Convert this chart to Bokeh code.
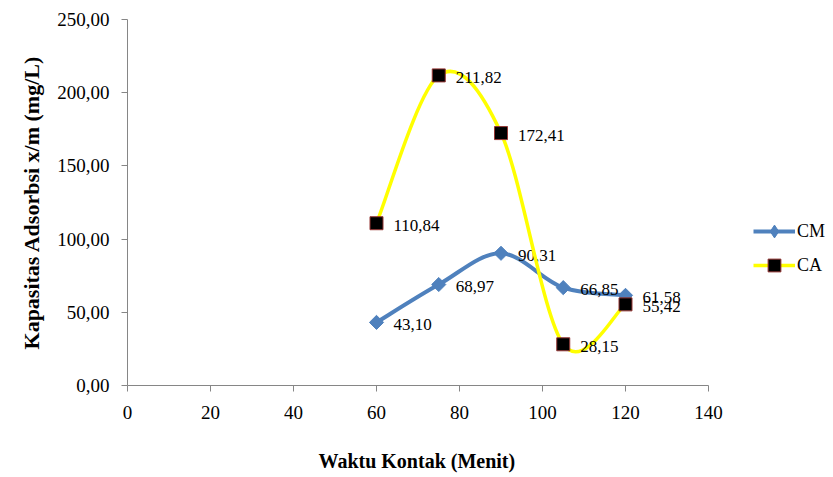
from bokeh.plotting import figure
from bokeh.models import (Range1d, FixedTicker, CustomJSTickFormatter, Legend,
                          LegendItem, ColumnDataSource, Title)
from bokeh.core.properties import value
from bokeh.embed import file_html
from bokeh.resources import INLINE
import numpy as np

# Contact time (minutes) and adsorption capacity x/m (mg/L)
waktu = [60, 75, 90, 105, 120]
cm = [43.10, 68.97, 90.31, 66.85, 61.58]
ca = [110.84, 211.82, 172.41, 28.15, 55.42]

x_ticks = [0, 20, 40, 60, 80, 100, 120, 140]
y_ticks = [0, 50, 100, 150, 200, 250]

CM_COLOR = "#4F81BD"
CA_COLOR = "#FFFF00"
SERIF = "Liberation Serif"

W, H = 833, 477
LEFT, TOP, BOTTOM = 127, 19, 92
AXIS_END_PX = 708          # where x = 140 sits on the canvas
X_MAX = 140
# the frame runs to the right edge so the legend can sit beside the axis
x_end = X_MAX * (W - LEFT) / (AXIS_END_PX - LEFT)


def smooth_segments(xs, ys):
    """Cubic Bezier pieces through the points (Catmull-Rom style smoothing)."""
    xs = np.asarray(xs, float)
    ys = np.asarray(ys, float)
    n = len(xs)
    px = np.concatenate([[xs[0]], xs, [xs[-1]]])
    py = np.concatenate([[ys[0]], ys, [ys[-1]]])
    seg = dict(x0=[], y0=[], x1=[], y1=[], cx0=[], cy0=[], cx1=[], cy1=[])
    for i in range(n - 1):
        j = i + 1
        seg["x0"].append(px[j]); seg["y0"].append(py[j])
        seg["x1"].append(px[j + 1]); seg["y1"].append(py[j + 1])
        seg["cx0"].append(px[j] + (px[j + 1] - px[j - 1]) / 6)
        seg["cy0"].append(py[j] + (py[j + 1] - py[j - 1]) / 6)
        seg["cx1"].append(px[j + 1] - (px[j + 2] - px[j]) / 6)
        seg["cy1"].append(py[j + 1] - (py[j + 2] - py[j]) / 6)
    return seg


def fmt(v):
    return f"{v:.2f}".replace(".", ",")


p = figure(width=W, height=H, output_backend="svg", toolbar_location=None,
           x_range=Range1d(0, x_end), y_range=Range1d(0, 250),
           min_border_left=LEFT, min_border_right=0,
           min_border_top=TOP, min_border_bottom=BOTTOM)

p.outline_line_color = None
p.xgrid.visible = False
p.ygrid.visible = False
p.background_fill_color = "white"
p.border_fill_color = "white"

for ax in (p.xaxis[0], p.yaxis[0]):
    ax.axis_line_color = "#868686"
    ax.major_tick_line_color = "#868686"
    ax.minor_tick_line_color = None
    ax.major_tick_in = 0
    ax.major_tick_out = 6
    ax.major_label_text_font = SERIF
    ax.major_label_text_font_size = "19px"
    ax.major_label_text_color = "black"
    ax.axis_label_text_font = SERIF
    ax.axis_label_text_font_style = "bold"
    ax.axis_label_text_color = "black"

p.xaxis.bounds = (0, X_MAX)
p.xaxis.ticker = FixedTicker(ticks=x_ticks)
p.yaxis.ticker = FixedTicker(ticks=y_ticks)
p.yaxis.formatter = CustomJSTickFormatter(code="return tick.toFixed(2).replace('.', ',');")
p.yaxis.axis_label = "Kapasitas Adsorbsi x/m (mg/L)"
p.yaxis.axis_label_text_font_size = "22px"
p.xaxis.major_label_standoff = 14
p.yaxis.major_label_standoff = 12
p.yaxis.axis_label_standoff = 10

# blank spacer between the tick labels and the x-axis title
p.add_layout(Title(text="\u00a0", text_font_size="12px", standoff=10), "below")
# x-axis title, centred under the 0-140 axis line
x_title = Title(text="Waktu Kontak (Menit)", text_font=SERIF,
                text_font_size="20px", text_font_style="bold",
                text_color="black", align="left", offset=191, standoff=0)
p.add_layout(x_title, "below")

# CM series
cm_seg = smooth_segments(waktu, cm)
p.bezier(source=ColumnDataSource(cm_seg), x0="x0", y0="y0", x1="x1", y1="y1",
         cx0="cx0", cy0="cy0", cx1="cx1", cy1="cy1",
         line_color=CM_COLOR, line_width=4)
p.scatter(waktu, cm, marker="square", angle=np.pi / 4, size=10,
          fill_color=CM_COLOR, line_color=CM_COLOR, line_width=1)
p.text(waktu, cm, text=[fmt(v) for v in cm], x_offset=17, y_offset=2,
       text_font=value(SERIF), text_font_size="17px", text_color="black",
       text_baseline="middle", text_align="left")

# CA series
ca_seg = smooth_segments(waktu, ca)
p.bezier(source=ColumnDataSource(ca_seg), x0="x0", y0="y0", x1="x1", y1="y1",
         cx0="cx0", cy0="cy0", cx1="cx1", cy1="cy1",
         line_color=CA_COLOR, line_width=3.5)
p.scatter(waktu, ca, marker="square", size=13,
          fill_color="black", line_color="#953735", line_width=1)
p.text(waktu, ca, text=[fmt(v) for v in ca], x_offset=17, y_offset=2,
       text_font=value(SERIF), text_font_size="17px", text_color="black",
       text_baseline="middle", text_align="left")

# legend-only renderers, kept outside the visible ranges
off_x, off_y = [-50, -40], [-50, -50]
cm_leg_line = p.line(off_x, off_y, line_color=CM_COLOR, line_width=4)
cm_leg_mark = p.scatter(off_x, off_y, marker="diamond", size=16,
                        fill_color=CM_COLOR, line_color=CM_COLOR)
ca_leg_line = p.line(off_x, off_y, line_color=CA_COLOR, line_width=3.5)
ca_leg_mark = p.scatter(off_x, off_y, marker="square", size=13,
                        fill_color="black", line_color="#953735", line_width=1)

legend = Legend(items=[
    LegendItem(label="CM", renderers=[cm_leg_line, cm_leg_mark]),
    LegendItem(label="CA", renderers=[ca_leg_line, ca_leg_mark]),
], location=(753 - LEFT, (H - BOTTOM) - 281))
legend.margin = 0
legend.padding = 0
legend.spacing = 2
legend.glyph_width = 42
legend.glyph_height = 32
legend.label_height = 32
legend.label_standoff = 2
legend.label_text_font = SERIF
legend.label_text_font_size = "18px"
legend.label_text_color = "black"
legend.border_line_color = None
legend.background_fill_alpha = 0
p.add_layout(legend, "center")

open("out.html", "w").write(file_html(p, INLINE))
